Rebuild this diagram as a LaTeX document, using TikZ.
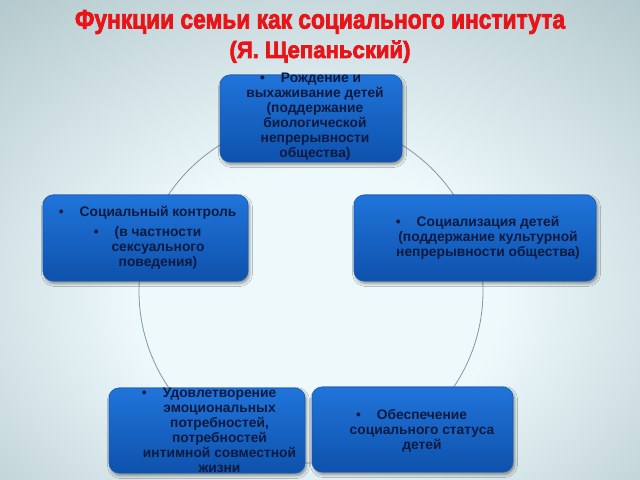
\documentclass[tikz,border=0pt]{standalone}
\usepackage{fontspec}
\setmainfont{Liberation Sans}
\newfontfamily\titlefont[BoldFeatures={FakeBold=3}]{Liberation Sans}
\usetikzlibrary{shadows.blur}
\definecolor{bgc}{RGB}{238,249,252}
\definecolor{bgm}{RGB}{186,206,210}
\definecolor{bge}{RGB}{104,140,146}
\definecolor{titlered}{RGB}{232,20,24}
\definecolor{boxtop}{RGB}{32,116,218}
\definecolor{boxbot}{RGB}{14,82,172}
\definecolor{boxline}{RGB}{20,90,180}
\definecolor{txtc}{RGB}{12,26,64}
\definecolor{ringc}{RGB}{130,152,160}
\pgfdeclareradialshading{bgshade}{\pgfpoint{0bp}{-8bp}}{color(0bp)=(bgc); color(14bp)=(bgc); color(36bp)=(bgm); color(66bp)=(bge); color(80bp)=(bge)}
\newcommand\bul{\llap{\textbullet\hspace{16bp}}}
\begin{document}
\begin{tikzpicture}[x=1bp,y=-1bp,
  fbox/.style={rounded corners=10bp, draw=boxline, line width=0.6bp, top color=boxtop, bottom color=boxbot,
    blur shadow={shadow xshift=1.5bp, shadow yshift=-2.5bp, shadow blur radius=3bp, shadow opacity=45}, inner sep=0pt},
  ftext/.style={text=txtc, font=\bfseries\fontsize{13.8bp}{15bp}\selectfont, align=center, inner sep=0pt},
  ttl/.style={text=titlered, inner sep=0pt, anchor=base},
  ring/.style={draw=ringc, line width=0.8bp}]
\shade[shading=bgshade] (0,0) rectangle (640,480);
\useasboundingbox (0,0) rectangle (640,480);
\coordinate (ctr) at (311,291);
\draw[ring] (ctr) circle[radius=172];
\node[fbox, minimum width=182bp, minimum height=87bp] (b1) at (311,118.5) {};
\node[fbox, minimum width=205bp, minimum height=86bp] (b2) at (145.5,238) {};
\node[fbox, minimum width=242bp, minimum height=86bp] (b3) at (475,238) {};
\node[fbox, minimum width=196bp, minimum height=85bp] (b4) at (207,430.5) {};
\node[fbox, minimum width=201bp, minimum height=85bp] (b5) at (412.5,429.5) {};
\node[ftext] (x1) at (315,117) {\hspace*{12bp}\bul Рождение и\\выхаживание детей\\(поддержание\\биологической\\непрерывности\\общества)};
\node[ftext] (x2) at (158,237.5) {\bul Социальный контроль\\[5bp]\bul (в частности\\сексуального\\поведения)};
\node[ftext] (x3) at (488,238) {\bul Социализация детей\\(поддержание культурной\\непрерывности общества)};
\node[ftext] (x4) at (219.5,430) {\bul Удовлетворение\\эмоциональных\\потребностей,\\потребностей\\интимной совместной\\жизни};
\node[ftext] (x5) at (422,431) {\bul Обеспечение\\социального статуса\\детей};
\node[ttl] (t1) at (320,28.5) {\resizebox{490bp}{18.5bp}{\titlefont\bfseries Функции семьи как социального института}};
\node[ttl] (t2) at (320,58) {\resizebox{181bp}{17.5bp}{\titlefont\bfseries (Я. Щепаньский)}};
\end{tikzpicture}
\end{document}
